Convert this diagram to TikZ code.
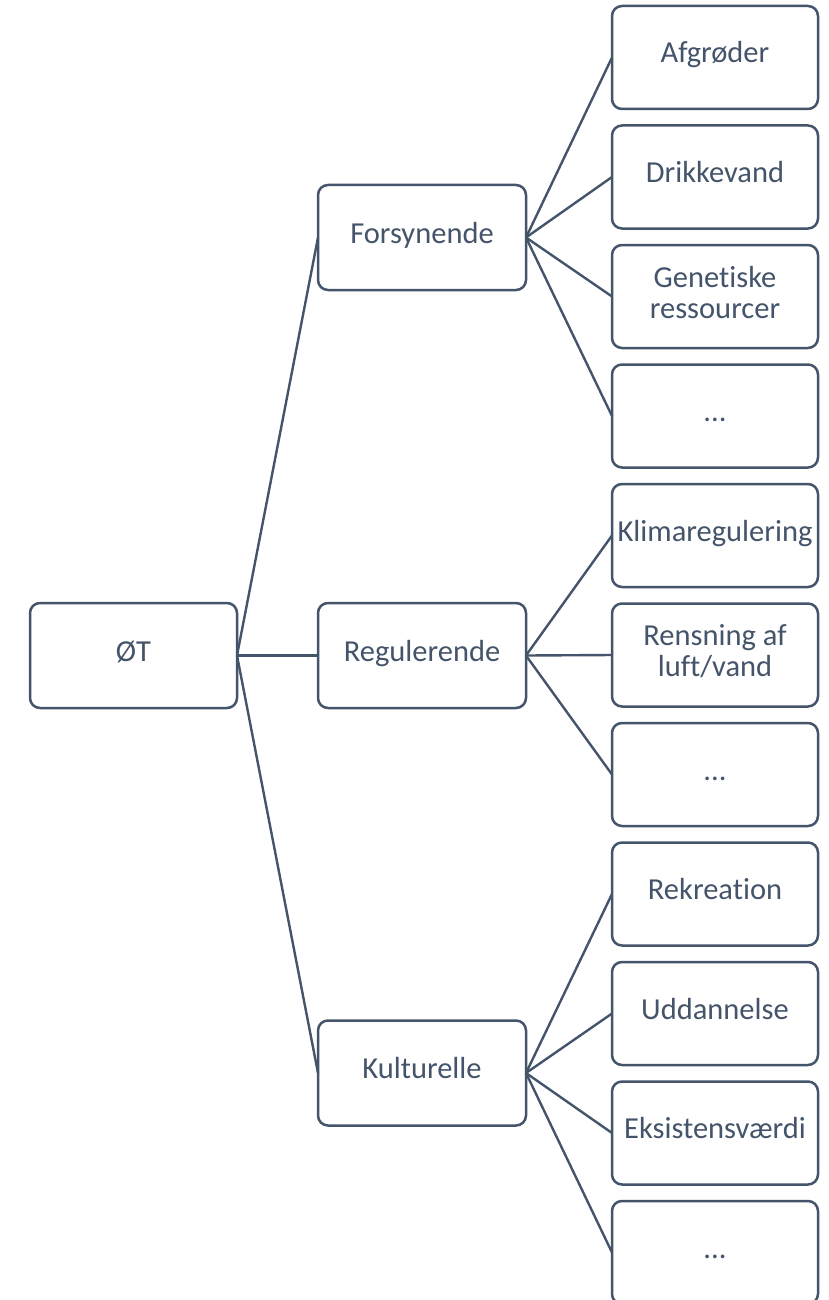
\documentclass[tikz,border=0pt]{standalone}
\usepackage{fontspec}
\setmainfont{Carlito}[Ligatures={NoCommon}]
\definecolor{slate}{HTML}{44546A}
\newcommand{\lowstrut}{\rule[-9pt]{0pt}{9pt}}
\begin{document}
\begin{tikzpicture}[x=1pt,y=-1pt,
  box/.style={draw=slate, line width=2.5pt, rounded corners=10pt, fill=white,
    text=slate, inner sep=0pt, outer sep=0pt, align=center,
    font=\fontsize{30.5}{31}\selectfont},
  onebox/.style={box, text height=20pt, text depth=9pt},
  rootbox/.style={onebox, minimum width=207pt, minimum height=105pt},
  midbox/.style={onebox, minimum width=208pt, minimum height=105pt},
  leafbox/.style={onebox, minimum width=206pt, minimum height=103pt},
  leaftwo/.style={box, minimum width=206pt, minimum height=103pt},
  link/.style={draw=slate, line width=2.4pt}]
\useasboundingbox (0,0) rectangle (828,1300);
\clip (0,0) rectangle (828,1300);
\node[rootbox] (ot) at (133.5,655.5) {ØT};
\node[midbox] (fors) at (422,237.5) {Forsynende};
\node[midbox] (reg) at (422,655.5) {Regulerende};
\node[midbox] (kul) at (422,1073) {Kulturelle};
\node[leafbox] (a1) at (715,57.5) {Afgrøder};
\node[leafbox] (a2) at (715,177) {Drikkevand};
\node[leaftwo] (a3) at (715,296.5) {Genetiske\\ressourcer\lowstrut};
\node[leafbox] (a4) at (715,416) {...};
\node[leafbox] (b1) at (715,535.5) {Klimaregulering};
\node[leaftwo] (b2) at (715,655) {Rensning af\\luft/vand\lowstrut};
\node[leafbox] (b3) at (715,774.5) {...};
\node[leafbox] (c1) at (715,894) {Rekreation};
\node[leafbox] (c2) at (715,1013.5) {Uddannelse};
\node[leafbox] (c3) at (715,1133) {Eksistensværdi};
\node[leafbox] (c4) at (715,1252.5) {...};
\foreach \m in {fors,reg,kul} \draw[link] (ot.east) -- (\m.west);
\foreach \l in {a1,a2,a3,a4} \draw[link] (fors.east) -- (\l.west);
\foreach \l in {b1,b2,b3} \draw[link] (reg.east) -- (\l.west);
\foreach \l in {c1,c2,c3,c4} \draw[link] (kul.east) -- (\l.west);
\end{tikzpicture}
\end{document}
